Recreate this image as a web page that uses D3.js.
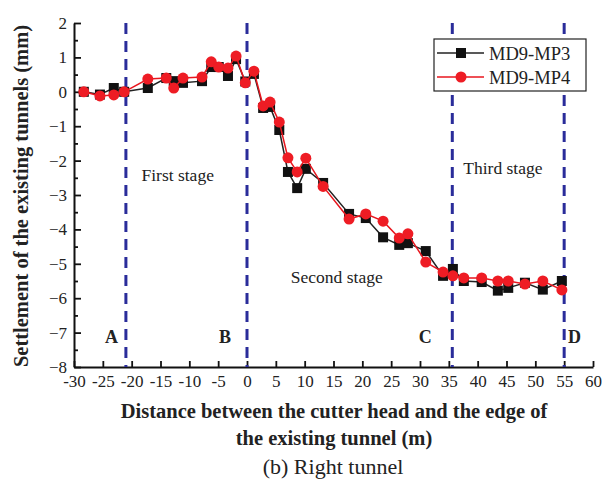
<!DOCTYPE html>
<html lang="en">
<head>
    <meta charset="UTF-8">
    <title>Right tunnel settlement</title>
    <script src="https://d3js.org/d3.v7.min.js"></script>
    <style>
        body { margin: 0; background: #fff; }
        svg { display: block; font-family: "Liberation Serif", "Times New Roman", serif; }
        .axis-title { font-size: 20.5px; font-weight: bold; fill: #222; }
        .stage { font-size: 17.5px; fill: #222; }
        .letter { font-size: 18px; font-weight: bold; fill: #222; }
    </style>
</head>
<body>
<svg id="chart" width="602" height="483"></svg>
<script>
    // data
    const distance = [-28.3, -25.5, -23.1, -21.3, -17.2, -14.0, -12.7, -11.1, -7.8, -6.2, -4.9, -3.3, -1.9, -0.3, 1.2,
        2.8, 4.0, 5.6, 7.1, 8.7, 10.2, 13.2, 17.7, 20.6, 23.6, 26.4, 27.9, 31.0, 34.0, 35.7, 37.6, 40.7, 43.5, 45.3,
        48.2, 51.3, 54.6];
    const mp3 = [0, -0.08, 0.11, 0, 0.11, 0.4, 0.31, 0.26, 0.31, 0.72, 0.72, 0.46, 0.95, 0.3, 0.52,
        -0.47, -0.44, -1.11, -2.33, -2.8, -2.24, -2.65, -3.55, -3.67, -4.23, -4.45, -4.4, -4.63, -5.35, -5.15,
        -5.5, -5.53, -5.78, -5.7, -5.55, -5.75, -5.5];
    const mp4 = [0, -0.12, -0.09, 0, 0.37, 0.4, 0.11, 0.4, 0.43, 0.87, 0.72, 0.69, 1.04, 0.26, 0.6,
        -0.41, -0.3, -0.88, -1.92, -2.33, -1.93, -2.75, -3.7, -3.55, -3.76, -4.25, -4.13, -4.95, -5.24, -5.35,
        -5.41, -5.41, -5.5, -5.5, -5.59, -5.5, -5.76];
    const seriesNames = ["MD9-MP3", "MD9-MP4"];
    const xTicks = d3.range(-30, 61, 5);
    const yTicks = d3.range(-8, 3, 1);
    const stageLines = [-21, 0, 35.6, 55];
    const stageNames = [
        { label: "First stage", x: -18.3, y: -2.6 },
        { label: "Second stage", x: 7.6, y: -5.55 },
        { label: "Third stage", x: 37.5, y: -2.4 }
    ];
    const letters = [
        { label: "A", x: -23.5, y: -7.3 },
        { label: "B", x: -3.8, y: -7.3 },
        { label: "C", x: 30.9, y: -7.3 },
        { label: "D", x: 56.8, y: -7.3 }
    ];

    const margin = { top: 23, right: 9, bottom: 116, left: 74 };
    const width = 602 - margin.left - margin.right;
    const height = 483 - margin.top - margin.bottom;

    const svg = d3.select("#chart");
    const g = svg.append("g").attr("transform", `translate(${margin.left},${margin.top})`);

    const x = d3.scaleLinear().domain([-30, 60]).range([0, width]);
    const y = d3.scaleLinear().domain([-8, 2]).range([height, 0]);

    // axes, ticks pointing inward
    const xAxis = g.append("g")
        .attr("transform", `translate(0,${height})`)
        .call(d3.axisBottom(x).tickValues(xTicks).tickSize(-6).tickPadding(8).tickSizeOuter(0));
    const yAxis = g.append("g")
        .call(d3.axisLeft(y).tickValues(yTicks).tickSize(-7).tickPadding(7).tickSizeOuter(0));
    g.append("g")
        .call(d3.axisLeft(y).tickValues(d3.range(-7.5, 2, 1)).tickSize(-4).tickFormat("").tickSizeOuter(0))
        .select(".domain").remove();
    [xAxis, yAxis].forEach(a => {
        a.attr("font-family", "Liberation Serif, Times New Roman, serif").attr("font-size", 17);
        a.select(".domain").attr("stroke", "#111").attr("stroke-width", 2);
        a.selectAll(".tick text").attr("fill", "#222");
    });
    g.selectAll(".tick line").attr("stroke", "#111").attr("stroke-width", 1.8);
    xAxis.selectAll(".tick text").text(d => d);

    // stage dividers
    g.selectAll(".stage-line")
        .data(stageLines)
        .enter().append("line")
        .attr("x1", d => x(d)).attr("x2", d => x(d))
        .attr("y1", 0).attr("y2", height)
        .attr("stroke", "#2a2c9a")
        .attr("stroke-width", 3)
        .attr("stroke-dasharray", "11,7");

    g.selectAll(".stage")
        .data(stageNames)
        .enter().append("text")
        .attr("class", "stage")
        .attr("x", d => x(d.x)).attr("y", d => y(d.y))
        .text(d => d.label);

    g.selectAll(".letter")
        .data(letters)
        .enter().append("text")
        .attr("class", "letter")
        .attr("text-anchor", "middle")
        .attr("x", d => x(d.x)).attr("y", d => y(d.y))
        .text(d => d.label);

    // series
    const line = d3.line().x(d => x(d[0])).y(d => y(d[1]));
    const d3pts = distance.map((d, i) => [d, mp3[i]]);
    const d4pts = distance.map((d, i) => [d, mp4[i]]);

    g.append("path").datum(d3pts)
        .attr("fill", "none").attr("stroke", "#222").attr("stroke-width", 1.5).attr("d", line);
    g.selectAll(".sq").data(d3pts).enter().append("rect")
        .attr("x", d => x(d[0]) - 5).attr("y", d => y(d[1]) - 5)
        .attr("width", 10).attr("height", 10).attr("fill", "#111");

    g.append("path").datum(d4pts)
        .attr("fill", "none").attr("stroke", "#e8161e").attr("stroke-width", 1.5).attr("d", line);
    g.selectAll(".dot").data(d4pts).enter().append("circle")
        .attr("cx", d => x(d[0])).attr("cy", d => y(d[1]))
        .attr("r", 5.5).attr("fill", "#ee1c24");

    // legend
    const legend = svg.append("g").attr("transform", "translate(434,39)");
    legend.append("rect").attr("width", 152).attr("height", 52)
        .attr("fill", "#fff").attr("stroke", "#222").attr("stroke-width", 1.2);
    const lg = legend.selectAll(".lg").data(seriesNames).enter().append("g")
        .attr("transform", (d, i) => `translate(0,${14 + i * 24})`);
    lg.append("line").attr("x1", 3).attr("x2", 50).attr("y1", 0).attr("y2", 0)
        .attr("stroke", (d, i) => i ? "#e8161e" : "#222").attr("stroke-width", 1.3);
    lg.filter((d, i) => i === 0).append("rect")
        .attr("x", 22).attr("y", -5).attr("width", 10).attr("height", 10).attr("fill", "#111");
    lg.filter((d, i) => i === 1).append("circle")
        .attr("cx", 27).attr("cy", 0).attr("r", 5.5).attr("fill", "#ee1c24");
    lg.append("text").attr("x", 55).attr("y", 6.5)
        .attr("font-size", "18.5px").attr("fill", "#222").text(d => d);

    // titles
    svg.append("text").attr("class", "axis-title")
        .attr("transform", "translate(28,196) rotate(-90)")
        .attr("text-anchor", "middle")
        .text("Settlement of the existing tunnels (mm)");
    svg.append("text").attr("class", "axis-title")
        .attr("x", 334).attr("y", 418).attr("text-anchor", "middle")
        .text("Distance between the cutter head and the edge of");
    svg.append("text").attr("class", "axis-title")
        .attr("x", 334).attr("y", 445).attr("text-anchor", "middle")
        .text("the existing tunnel (m)");
    svg.append("text")
        .attr("x", 333).attr("y", 474).attr("text-anchor", "middle")
        .attr("font-size", "22px").attr("fill", "#222")
        .text("(b) Right tunnel");
</script>
</body>
</html>
